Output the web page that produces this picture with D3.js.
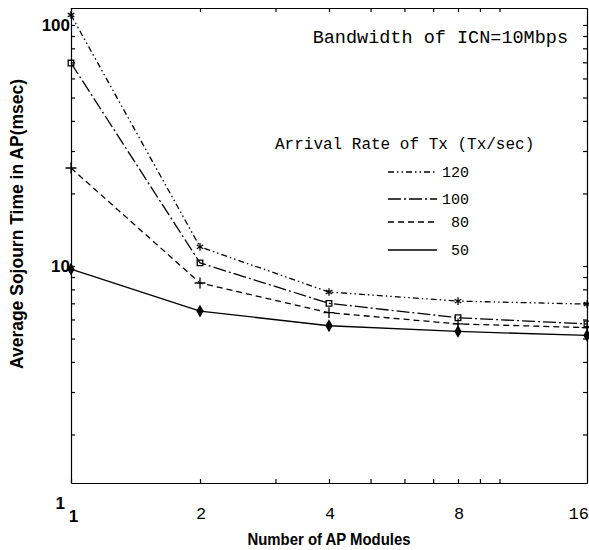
<!DOCTYPE html>
<html>
<head>
<meta charset="utf-8">
<script src="https://cdn.jsdelivr.net/npm/d3@7"></script>
<style>
  body { margin: 0; background: #fff; }
  svg { display: block; }
  .axis path, .axis line { stroke: #000; stroke-width: 1.2; }
</style>
</head>
<body>
<div id="chart"></div>
<script>
// chart data
const modules = [1, 2, 4, 8, 16];
const xTickLabels = ['1', '2', '4', '8', '16'];
const yTickValues = [1, 10, 100];
const yTickLabels = ['1', '10', '100'];
const seriesNames = ['120', '100', '80', '50'];
const rate120 = [110, 12.0, 7.8, 7.15, 6.95];
const rate100 = [69.5, 10.3, 7.0, 6.1, 5.75];
const rate80 = [25.5, 8.5, 6.4, 5.75, 5.55];
const rate50 = [9.7, 6.5, 5.65, 5.35, 5.15];

// layout variables
const width = 589;
const height = 550;
const margin = {t: 8, r: 2, b: 67, l: 71};
const w = width - (margin.l + margin.r);
const h = height - (margin.t + margin.b);
const monoFont = '"Liberation Mono", "Courier New", monospace';
const sansFont = '"Liberation Sans", Arial, sans-serif';

// series styles
const dashes = {'120': '6,3,1.5,3,1.5,3', '100': '13,3,2,3', '80': '6,4', '50': null};
const symbolTypes = {
    '120': d3.symbolAsterisk || d3.symbolCross,
    '100': d3.symbolSquare2 || d3.symbolSquare,
    '80': d3.symbolPlus || d3.symbolCross,
    '50': d3.symbolDiamond
};
const symbolFilled = {'120': false, '100': false, '80': false, '50': true};

const series = seriesNames.map((name, i) => ({
    name: name,
    values: [rate120, rate100, rate80, rate50][i].map((v, j) => ({x: modules[j], y: v}))
}));

const svg = d3.select('#chart')
    .append('svg')
    .attr('width', width)
    .attr('height', height);

const plot = svg.append('g')
    .attr('transform', `translate(${margin.l},${margin.t})`);

// setting up scales (log-log)
const scaleX = d3.scaleLog()
    .domain([1, 16])
    .range([0, w]);
const scaleY = d3.scaleLog()
    .domain([1.258, 117.6])
    .range([h, 0]);

// frame with inward ticks on all four sides
const axes = [
    {gen: d3.axisLeft(scaleY), tr: [0, 0], tv: scaleY.ticks()},
    {gen: d3.axisRight(scaleY), tr: [w, 0], tv: scaleY.ticks()},
    {gen: d3.axisBottom(scaleX), tr: [0, h], tv: scaleX.ticks()},
    {gen: d3.axisTop(scaleX), tr: [0, 0], tv: scaleX.ticks()}
];
axes.forEach(a => {
    plot.append('g')
        .attr('class', 'axis')
        .attr('transform', `translate(${a.tr[0]},${a.tr[1]})`)
        .call(a.gen.tickValues(a.tv).tickSizeInner(-4).tickSizeOuter(0).tickFormat(''));
});

// y tick labels (the "1" sits below the frame, a bit to the left)
plot.selectAll('.ylabel')
    .data(yTickValues)
    .enter()
    .append('text')
    .attr('class', 'ylabel')
    .attr('x', (d, i) => i === 0 ? -6 : -1)
    .attr('y', (d, i) => scaleY(d) - (i === 0 ? 4 : 0))
    .attr('dy', '0.35em')
    .attr('text-anchor', 'end')
    .style('font-family', sansFont)
    .style('font-weight', 'bold')
    .style('font-size', '17px')
    .text((d, i) => yTickLabels[i]);

// x tick labels
plot.selectAll('.xlabel')
    .data(modules)
    .enter()
    .append('text')
    .attr('class', 'xlabel')
    .attr('x', (d, i) => scaleX(d) + (i === modules.length - 1 ? 2 : i === 0 ? 2.5 : 1))
    .attr('y', (d, i) => h + (i === 0 ? 33 : 30))
    .attr('dy', '0.35em')
    .attr('text-anchor', (d, i) => i === modules.length - 1 ? 'end' : 'middle')
    .style('font-family', (d, i) => i === 0 ? sansFont : monoFont)
    .style('font-weight', (d, i) => i === 0 ? 'bold' : 'normal')
    .style('font-size', '17px')
    .text((d, i) => xTickLabels[i]);

// axis titles
svg.append('text')
    .attr('x', margin.l + w / 2)
    .attr('y', 545)
    .attr('text-anchor', 'middle')
    .attr('textLength', 163)
    .attr('lengthAdjust', 'spacingAndGlyphs')
    .style('font-family', sansFont)
    .style('font-weight', 'bold')
    .style('font-size', '17px')
    .text('Number of AP Modules');

svg.append('text')
    .attr('transform', 'translate(23,224) rotate(-90)')
    .attr('text-anchor', 'middle')
    .style('font-family', sansFont)
    .style('font-weight', 'bold')
    .style('font-size', '17.5px')
    .text('Average Sojourn Time in AP(msec)');

// line generator
const line = d3.line()
    .x(d => scaleX(d.x))
    .y(d => scaleY(d.y));

const groups = plot.selectAll('.series')
    .data(series)
    .enter()
    .append('g')
    .attr('class', 'series');

groups.append('path')
    .attr('d', d => line(d.values))
    .style('fill', 'none')
    .style('stroke', '#000')
    .style('stroke-width', 1.3)
    .style('stroke-dasharray', d => dashes[d.name]);

groups.selectAll('.marker')
    .data(d => d.values.map(v => ({name: d.name, x: v.x, y: v.y})))
    .enter()
    .append('path')
    .attr('class', 'marker')
    .attr('transform', d => `translate(${scaleX(d.x)},${scaleY(d.y)})`)
    .attr('d', d => d3.symbol().type(symbolTypes[d.name]).size(d.name === '50' ? 30 : 40)())
    .style('fill', d => symbolFilled[d.name] ? '#000' : 'none')
    .style('stroke', '#000')
    .style('stroke-width', 1.3);

// annotation
svg.append('text')
    .attr('x', 568)
    .attr('y', 37)
    .attr('dy', '0.35em')
    .attr('text-anchor', 'end')
    .style('font-family', monoFont)
    .style('font-size', '18.5px')
    .text('Bandwidth of ICN=10Mbps');

// legend
const legend = svg.append('g').attr('class', 'legend');
legend.append('text')
    .attr('x', 275)
    .attr('y', 143)
    .attr('dy', '0.35em')
    .style('font-family', monoFont)
    .style('font-size', '16px')
    .text('Arrival Rate of Tx (Tx/sec)');

const legendRowY = {'120': 172, '100': 199, '80': 222, '50': 250};

const rows = legend.selectAll('.row')
    .data(seriesNames)
    .enter()
    .append('g')
    .attr('class', 'row')
    .attr('transform', d => `translate(0,${legendRowY[d]})`);

rows.append('line')
    .attr('x1', 388)
    .attr('x2', 437)
    .style('stroke', '#000')
    .style('stroke-width', 1.5)
    .style('stroke-dasharray', d => dashes[d]);

rows.append('text')
    .attr('x', 469)
    .attr('dy', '0.35em')
    .attr('text-anchor', 'end')
    .style('font-family', monoFont)
    .style('font-size', '15px')
    .text(d => d);
</script>
</body>
</html>
